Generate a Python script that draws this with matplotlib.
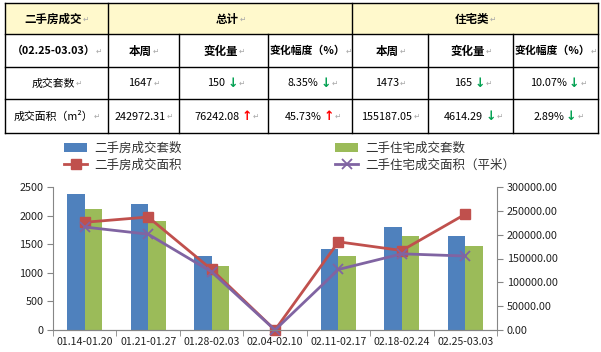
import numpy as np
import matplotlib
matplotlib.use('Agg')
import matplotlib.pyplot as plt
from matplotlib.patches import Rectangle

plt.rcParams['font.family'] = ['Noto Sans CJK SC', 'DejaVu Sans']

# datos del grafico
weeks = ['01.14-01.20', '01.21-01.27', '01.28-02.03', '02.04-02.10',
         '02.11-02.17', '02.18-02.24', '02.25-03.03']
all_count = [2370, 2210, 1300, 0, 1410, 1797, 1647]
res_count = [2110, 1910, 1120, 0, 1300, 1638, 1473]
all_area = [226000, 237000, 127000, 0, 185000, 166730.23, 242972.31]
res_area = [216000, 201000, 122000, 0, 127000, 159801.34, 155187.05]

# datos de la tabla
top_headers = ['二手房成交', '总计', '住宅类']
sub_headers = ['（02.25-03.03）', '本周', '变化量', '变化幅度（%）', '本周', '变化量', '变化幅度（%）']
row_labels = ['成交套数', '成交面积（m²）']
row_values = [['1647', '150', '8.35%', '1473', '165', '10.07%'],
              ['242972.31', '76242.08', '45.73%', '155187.05', '4614.29', '2.89%']]
row_arrows = [['', 'down', 'down', '', 'down', 'down'],
              ['', 'up', 'up', '', 'down', 'down']]

W, H = 601, 352
fig = plt.figure(figsize=(W / 100, H / 100), dpi=100)

# ---- tabla ----
tab = fig.add_axes([0, 0, 1, 1])
tab.set_xlim(0, W)
tab.set_ylim(H, 0)
tab.axis('off')

cols = [5, 108, 179, 268, 352, 428, 513, 598]
rows = [3, 34, 67, 99, 133]
yellow = '#FFF9CC'
tab.add_patch(Rectangle((cols[0], rows[0]), cols[-1] - cols[0], rows[1] - rows[0],
                        facecolor=yellow, edgecolor='none'))
lw = 1.0
for y in rows:
    tab.plot([cols[0], cols[-1]], [y, y], color='black', lw=lw)
for i, x in enumerate(cols):
    y0 = rows[0] if i in (0, 1, 4, 7) else rows[1]
    tab.plot([x, x], [y0, rows[-1]], color='black', lw=lw)

mark_color = '#A8A8A8'


def cell(x0, x1, y0, y1, text, bold=False, arrow='', size=7.8):
    cx = (x0 + x1) / 2
    cy = (y0 + y1) / 2 + 0.5
    shift = 7 if arrow else 3
    t = tab.text(cx - shift, cy, text, ha='center', va='center', fontsize=size,
                 fontweight='bold' if bold else 'normal', color='black')
    last = t
    if arrow:
        last = tab.annotate('↓' if arrow == 'down' else '↑', xy=(1, 0.5), xycoords=t,
                            xytext=(1.5, 0), textcoords='offset points', ha='left', va='center',
                            fontsize=9, fontweight='bold', family='DejaVu Sans',
                            color='#00A050' if arrow == 'down' else '#FF0000')
    tab.annotate('↵', xy=(1, 0.5), xycoords=last, xytext=(0.5, 0), textcoords='offset points',
                 ha='left', va='center', fontsize=5.5, color=mark_color, family='DejaVu Sans')


cell(cols[0], cols[1], rows[0], rows[1], top_headers[0], bold=True, size=8.3)
cell(cols[1], cols[4], rows[0], rows[1], top_headers[1], bold=True, size=8.3)
cell(cols[4], cols[7], rows[0], rows[1], top_headers[2], bold=True, size=8.3)
for j, h in enumerate(sub_headers):
    cell(cols[j], cols[j + 1], rows[1], rows[2], h, bold=True,
         size=7.8 if j in (0, 3, 6) else 8.3)
for r in range(2):
    cell(cols[0], cols[1], rows[r + 2], rows[r + 3], row_labels[r])
    for j in range(6):
        cell(cols[j + 1], cols[j + 2], rows[r + 2], rows[r + 3], row_values[r][j],
             arrow=row_arrows[r][j])

# ---- grafico ----
left, right, bottom, top = 53, 497, 330, 187
ax = fig.add_axes([left / W, (H - bottom) / H, (right - left) / W, (bottom - top) / H])
ax.patch.set_alpha(0)
x = np.arange(len(weeks))
w = 0.276
b1 = ax.bar(x - w / 2, all_count, width=w, color='#4F81BD', label='二手房成交套数')
b2 = ax.bar(x + w / 2, res_count, width=w, color='#9BBB59', label='二手住宅成交套数')
ax.set_xlim(-0.5, len(weeks) - 0.5)
ax.set_ylim(0, 2500)
ax.set_yticks(range(0, 2501, 500))
ax.set_xticks(x)
ax.set_xticklabels(weeks)
ax.set_xticks(np.arange(-0.5, len(weeks)), minor=True)
ax.tick_params(axis='x', which='major', length=0, labelsize=7.6, pad=5, colors='#222222')
ax.tick_params(axis='x', which='minor', length=4, color='#868686')
ax.tick_params(axis='y', length=4, color='#868686', labelsize=7.8, labelcolor='#222222', pad=3)

ax2 = ax.twinx()
l1, = ax2.plot(x, all_area, color='#C0504D', lw=2, marker='s', markersize=7,
               label='二手房成交面积', clip_on=False)
l2, = ax2.plot(x, res_area, color='#8064A2', lw=2, marker='x', markersize=7,
               markeredgewidth=1.3, label='二手住宅成交面积（平米）', clip_on=False)
ax2.set_ylim(0, 300000)
ax2.set_yticks(range(0, 300001, 50000))
ax2.set_yticklabels(['%.2f' % v for v in range(0, 300001, 50000)])
ax2.tick_params(axis='y', length=4, color='#868686', labelsize=7.8, labelcolor='#222222', pad=3)

for a in (ax, ax2):
    a.spines['top'].set_visible(False)
    for s in ('left', 'right', 'bottom'):
        a.spines[s].set_color('#868686')
ax.spines['right'].set_visible(False)
ax2.spines['left'].set_visible(False)

leg_kw = dict(frameon=False, fontsize=9, handlelength=1.85, handletextpad=0.55,
              labelspacing=0.3, borderaxespad=0, borderpad=0, labelcolor='#333333')
leg1 = fig.legend(handles=[b1, l1], loc='upper left',
                  bbox_to_anchor=(64 / W, 1 - 142 / H), **leg_kw)
leg2 = fig.legend(handles=[b2, l2], loc='upper left',
                  bbox_to_anchor=(335 / W, 1 - 142 / H), **leg_kw)

plt.savefig('out.png', dpi=100)
